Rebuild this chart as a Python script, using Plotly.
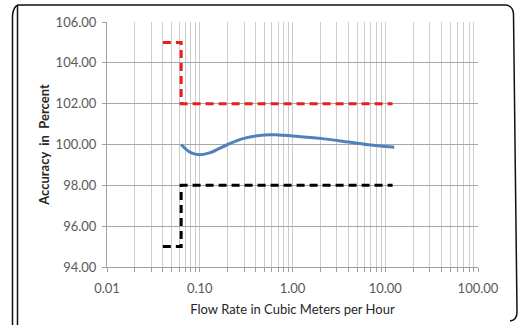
import plotly.graph_objects as go

# Data
upper_x = [0.04, 0.063, 0.063, 12.0]
upper_y = [105.0, 105.0, 102.0, 102.0]
lower_x = [0.04, 0.063, 0.063, 12.0]
lower_y = [95.0, 95.0, 98.0, 98.0]
meter_x = [0.063, 0.08, 0.1, 0.13, 0.2, 0.3, 0.5, 0.7, 1.0, 2.0, 4.0, 7.0, 10.0, 12.5]
meter_y = [100.0, 99.6, 99.5, 99.6, 100.0, 100.3, 100.47, 100.47, 100.42, 100.3, 100.12, 99.97, 99.9, 99.87]
x_tick_labels = ["0.01", "0.10", "1.00", "10.00", "100.00"]
y_ticks = [94, 96, 98, 100, 102, 104, 106]

W, H = 523, 325
L, R, T, B = 107, 45, 22, 58

decades = [0.01, 0.1, 1, 10, 100]
tickvals, ticktext = [], []
for i, d in enumerate(decades):
    tickvals.append(d)
    ticktext.append(x_tick_labels[i])
    if d < 100:
        for m in range(2, 10):
            tickvals.append(d * m)
            ticktext.append("")

fig = go.Figure()
fig.add_trace(go.Scatter(x=upper_x, y=upper_y, mode="lines",
                         line=dict(color="#ee1c1c", width=3, dash="8px,5px"), showlegend=False))
fig.add_trace(go.Scatter(x=lower_x, y=lower_y, mode="lines",
                         line=dict(color="#000000", width=3, dash="8px,5px"), showlegend=False))
fig.add_trace(go.Scatter(x=meter_x, y=meter_y, mode="lines",
                         line=dict(color="#4f81bd", width=3, shape="spline", smoothing=1.0), showlegend=False))

pw = W - L - R
ph = H - T - B
def px(x):
    return (x - L) / pw
def py(y):
    return (H - B - y) / ph

outer = (f"M {px(18)},{py(5)} Q {px(13)},{py(7)} {px(12.5)},{py(16)} L {px(12.5)},{py(330)}")
inner = f"M {px(17.5)},{py(5)} L {px(17.5)},{py(330)}"
top = (f"M {px(17.5)},{py(5)} L {px(506)},{py(5)} Q {px(513)},{py(6)} {px(513.5)},{py(14)} "
       f"L {px(517)},{py(312)} Q {px(517)},{py(320)} {px(510)},{py(321)}")

shapes = [
    dict(type="path", xref="paper", yref="paper", path=outer, line=dict(color="#111", width=1.5)),
    dict(type="path", xref="paper", yref="paper", path=inner, line=dict(color="#111", width=1.5)),
    dict(type="path", xref="paper", yref="paper", path=top, line=dict(color="#111", width=1.5)),
]

font = "Lato, 'Open Sans', sans-serif"
fig.update_layout(
    width=W, height=H,
    margin=dict(l=L, r=R, t=T, b=B),
    paper_bgcolor="white", plot_bgcolor="white",
    font=dict(family=font, size=13, color="#595959"),
    shapes=shapes,
    xaxis=dict(type="log", range=[-2, 2], tickmode="array", tickvals=tickvals, ticktext=ticktext,
               showgrid=True, gridcolor="#cccccc", gridwidth=1, automargin=False,
               showline=True, linecolor="#a0a0a0", linewidth=1,
               ticks="outside", ticklen=4, tickcolor="#a0a0a0", ticklabelstandoff=5,
               zeroline=False, mirror=False,
               title=dict(text="Flow Rate in Cubic Meters per Hour",
                          font=dict(family=font, size=13, color="#262626"), standoff=10)),
    yaxis=dict(range=[94, 106], tickmode="array", tickvals=y_ticks,
               tickformat=".2f", showgrid=True, gridcolor="#a8a8a8", gridwidth=1, automargin=False,
               showline=True, linecolor="#a0a0a0", linewidth=1,
               ticks="outside", ticklen=4, tickcolor="#a0a0a0", ticklabelstandoff=3,
               zeroline=False,
               title=dict(text="<b>Accuracy  in  Percent</b>",
                          font=dict(family=font, size=13, color="#262626"), standoff=3)),
)

fig.write_html("out.html", config={"displayModeBar": False},
               post_script="document.body.style.margin='0';")
